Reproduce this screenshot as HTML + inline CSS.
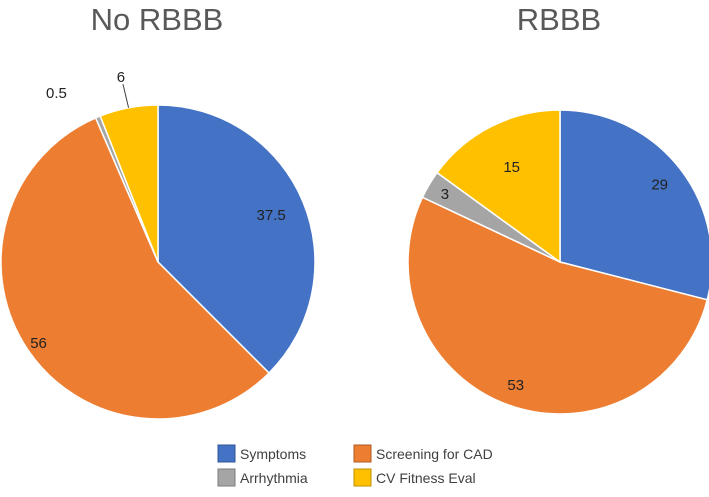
<!DOCTYPE html>
<html><head><meta charset="utf-8"><style>
body{margin:0;background:#fff;font-family:"Liberation Sans",sans-serif;}
svg text{font-family:"Liberation Sans",sans-serif;}
</style></head><body>
<svg id="chart" width="709" height="492">
<text x="157" y="30" font-size="31" fill="#595959" text-anchor="middle">No RBBB</text>
<text x="559" y="30" font-size="31" fill="#595959" text-anchor="middle">RBBB</text>
<g id="pies"></g>
<g>
<rect x="218" y="445" width="17" height="17" fill="#4472c4" stroke="#2f5597"/>
<text x="240" y="459" font-size="14" fill="#404040">Symptoms</text>
<rect x="354" y="445" width="17" height="17" fill="#ed7d31" stroke="#ae5a21"/>
<text x="376" y="459" font-size="14" fill="#404040">Screening for CAD</text>
<rect x="218" y="469" width="17" height="17" fill="#a5a5a5" stroke="#7b7b7b"/>
<text x="240" y="483" font-size="14" fill="#404040">Arrhythmia</text>
<rect x="354" y="469" width="17" height="17" fill="#ffc000" stroke="#bf9000"/>
<text x="376" y="483" font-size="14" fill="#404040">CV Fitness Eval</text>
</g>
</svg>
<script>
const categories=["Symptoms","Screening for CAD","Arrhythmia","CV Fitness Eval"];
const noRbbbValues=[37.5,56,0.5,6];
const rbbbValues=[29,53,3,15];
const noRbbbLabels=["37.5","56","0.5","6"];
const rbbbLabels=["29","53","3","15"];
const colors=["#4472c4","#ed7d31","#a5a5a5","#ffc000"];
const NS="http://www.w3.org/2000/svg";
const g=document.getElementById('pies');
function drawPie(vals,labels,cx,cy,r,key,outside,frac){
  const tot=vals.reduce((a,b)=>a+b,0);let a0=0;
  vals.forEach((v,i)=>{
    const a1=a0+v/tot*2*Math.PI;
    const p=(a)=>[cx+r*Math.sin(a),cy-r*Math.cos(a)];
    const [x0,y0]=p(a0),[x1,y1]=p(a1);
    const path=document.createElementNS(NS,'path');
    path.setAttribute('d',`M${cx},${cy}L${x0},${y0}A${r},${r} 0 ${a1-a0>Math.PI?1:0} 1 ${x1},${y1}Z`);
    path.setAttribute('fill',colors[i]);path.setAttribute('stroke','#fff');path.setAttribute('stroke-width','1.5');
    
    
    g.appendChild(path);
    const am=(a0+a1)/2;
    const isOut=outside[i];
    const lr=isOut?r+ (i==2?30:20):r*frac[i];
    const t=document.createElementNS(NS,'text');
    let tx=cx+lr*Math.sin(am),ty=cy-lr*Math.cos(am)+5;
    if(isOut&&i==2){tx-=30;ty+=4;}
    if(isOut&&i==3){tx=cx+(r+30)*Math.sin(am)-2;ty=cy-(r+22)*Math.cos(am)+2;
      const l=document.createElementNS(NS,'line');
      const [lx,ly]=p(am);
      l.setAttribute('x1',lx);l.setAttribute('y1',ly);l.setAttribute('x2',tx+2);l.setAttribute('y2',ty-4);
      l.setAttribute('stroke','#404040');
      
      
      g.appendChild(l);
      ty-=6;}
    t.setAttribute('x',tx);t.setAttribute('y',ty);t.setAttribute('text-anchor','middle');
    t.setAttribute('font-size','15');t.setAttribute('fill','#222');
    t.textContent=labels[i];
    
    
    g.appendChild(t);
    a0=a1;
  });
}
drawPie(noRbbbValues,noRbbbLabels,158,262,157,'no-rbbb',[false,false,true,true],[0.78,0.92,0,0]);
drawPie(rbbbValues,rbbbLabels,560,262,152,'rbbb',[false,false,false,false],[0.83,0.86,0.88,0.7]);
</script>
</body></html>
